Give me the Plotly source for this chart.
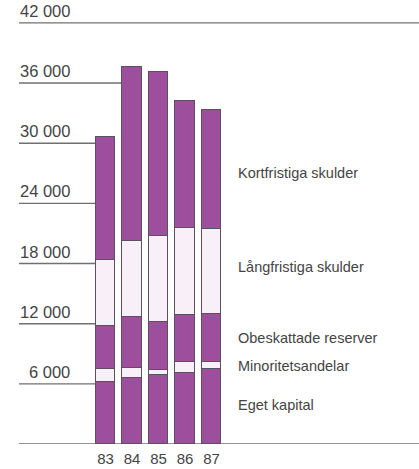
import plotly.graph_objects as go

years = ["83", "84", "85", "86", "87"]
eget_kapital = [6170, 6570, 6870, 7120, 7460]
minoritetsandelar = [1290, 1020, 490, 1040, 740]
obeskattade_reserver = [4310, 5110, 4810, 4710, 4735]
langfristiga_skulder = [6570, 7530, 8560, 8650, 8485]
kortfristiga_skulder = [12260, 17420, 16420, 12730, 11910]
y_ticks = [6000, 12000, 18000, 24000, 30000, 36000, 42000]
y_tick_labels = ["6 000", "12 000", "18 000", "24 000", "30 000", "36 000", "42 000"]
series_names = ["Eget kapital", "Minoritetsandelar", "Obeskattade reserver",
                "Långfristiga skulder", "Kortfristiga skulder"]

PURPLE = "#9d4f9d"
LIGHT = "#f8eff8"
EDGE = "#5a5060"
GRID = "#707070"
TEXT = "#444444"
FONT = "Liberation Sans"
W, H = 419, 469
BAR_W = 0.72

series = [eget_kapital, minoritetsandelar, obeskattade_reserver,
          langfristiga_skulder, kortfristiga_skulder]
colors = [PURPLE, LIGHT, PURPLE, LIGHT, PURPLE]
xs = list(range(len(years)))

fig = go.Figure()
for name, vals, col in zip(series_names, series, colors):
    fig.add_trace(go.Bar(x=xs, y=vals, name=name, width=BAR_W,
                         marker=dict(color=col, line=dict(color=EDGE, width=1.2)),
                         showlegend=False, hoverinfo="skip"))

totals = [sum(v) for v in zip(*series)]

# axis geometry: x px = 105.5 + 26.5 * index ; plot spans full width
px_per_x = 26.5
x0_px = 105.5
x_lo = -x0_px / px_per_x
x_hi = (W - x0_px) / px_per_x
left_x = (19 - x0_px) / px_per_x

shapes = []
shapes.append(dict(type="line", xref="x", yref="y", x0=left_x, x1=x_hi, y0=0, y1=0,
                   line=dict(color=GRID, width=1.4), layer="below"))
for v in y_ticks:
    first = next((i for i, t in enumerate(totals) if t >= v), None)
    x1 = x_hi if first is None else first - BAR_W / 2
    shapes.append(dict(type="line", xref="x", yref="y", x0=left_x, x1=x1, y0=v, y1=v,
                       line=dict(color=GRID, width=1.4), layer="below"))

annotations = []
for v, lab in zip(y_ticks, y_tick_labels):
    annotations.append(dict(x=72 / W, xref="paper", y=v, yref="y", text=lab,
                            showarrow=False, xanchor="right", yanchor="bottom", yshift=1,
                            font=dict(family=FONT, size=16.5, color=TEXT)))

label_y = [3910, 7730, 10560, 17690, 27050]
for name, ly in zip(series_names, label_y):
    annotations.append(dict(x=236 / W, xref="paper", y=ly, yref="y", text=name,
                            showarrow=False, xanchor="left", yanchor="middle",
                            font=dict(family=FONT, size=14.5, color=TEXT)))

fig.update_layout(
    width=W, height=H, barmode="stack", bargap=0,
    margin=dict(l=0, r=0, t=0, b=25),
    paper_bgcolor="white", plot_bgcolor="white",
    xaxis=dict(range=[x_lo, x_hi], tickvals=xs, ticktext=years, showgrid=False,
               zeroline=False, showline=False, ticks="", ticklabelstandoff=4,
               tickfont=dict(family=FONT, size=15, color=TEXT)),
    yaxis=dict(range=[0, 444.3 * 6000 / 60.2], showgrid=False, zeroline=False,
               showticklabels=False, showline=False),
    shapes=shapes, annotations=annotations,
)
fig.write_html("out.html", config={"displayModeBar": False},
               post_script="document.body.style.margin='0';")
